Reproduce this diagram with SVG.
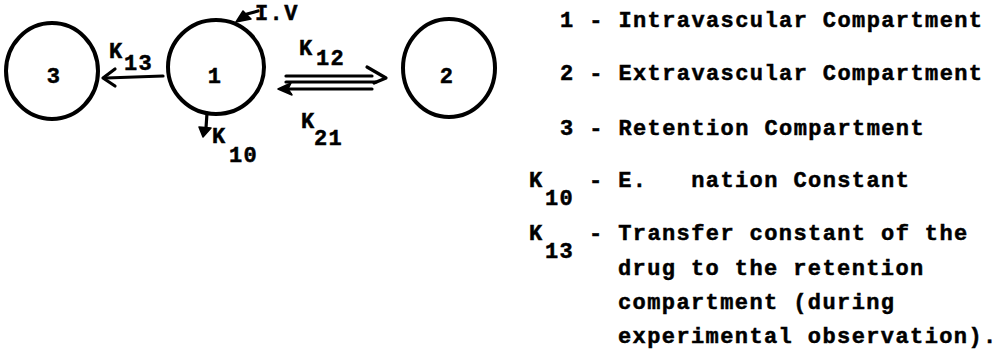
<svg xmlns="http://www.w3.org/2000/svg" width="999" height="353" viewBox="0 0 999 353">
<style>
.t{font-family:"Liberation Mono","DejaVu Sans Mono",monospace;font-weight:bold;font-size:22px;letter-spacing:1.4px;fill:#000;stroke:#000;stroke-width:0.5px;white-space:pre}
.c{fill:none;stroke:#000;stroke-width:4}
.ln{fill:none;stroke:#000;stroke-width:3.2;stroke-linecap:round;stroke-linejoin:round}
.hd{fill:#000;stroke:#000;stroke-width:1.5;stroke-linejoin:round}
</style>
<rect x="0" y="0" width="999" height="353" fill="#fff"/>
<g id="node-3">
<ellipse class="c" cx="52" cy="71" rx="46" ry="48"/>
<text class="t" x="54" y="83" text-anchor="middle">3</text>
</g>
<g id="node-1">
<ellipse class="c" cx="216" cy="67" rx="48" ry="47"/>
<text class="t" x="215" y="83" text-anchor="middle">1</text>
</g>
<g id="node-2">
<ellipse class="c" cx="449" cy="68" rx="46" ry="49"/>
<text class="t" x="447" y="83" text-anchor="middle">2</text>
</g>
<g id="connectors">
<g id="k13">
<path class="ln" d="M163,76 L106,78"/>
<path class="ln" d="M115,69 L103,78 L115,86"/>
<text class="t" x="109" y="58">K</text>
<text class="t" x="124" y="70">13</text>
</g>
<g id="k12">
<path class="ln" d="M286,76 L372,76"/>
<path class="ln" d="M286,82 L376,82"/>
<path class="ln" d="M367,67 L386,78 L374,83"/>
<text class="t" x="299" y="55">K</text>
<text class="t" x="316" y="65">12</text>
</g>
<g id="k21">
<path class="ln" d="M284,89 L372,89"/>
<path class="hd" d="M278,89 L291,83 L288,89 L292,95 Z"/>
<text class="t" x="301" y="128">K</text>
<text class="t" x="314" y="145">21</text>
</g>
<g id="k10">
<path class="ln" d="M207,113 L206,128"/>
<path class="hd" d="M199,127 L211,128 L203,137 Z"/>
<text class="t" x="212" y="143">K</text>
<text class="t" x="229" y="162">10</text>
</g>
<g id="iv">
<path class="ln" d="M258,11 L247,14"/>
<path class="hd" d="M236,22 L243,11 L251,19 Z"/>
<text class="t" x="255" y="20">I.V</text>
</g>
</g>
<g id="legend">
<text class="t" x="560" y="27">1 - Intravascular Compartment</text>
<text class="t" x="560" y="80">2 - Extravascular Compartment</text>
<text class="t" x="560" y="135">3 - Retention Compartment</text>
<text class="t" x="529" y="187">K</text>
<text class="t" x="545" y="205">10</text>
<text class="t" x="589" y="187" xml:space="preserve">- E.   nation Constant</text>
<text class="t" x="529" y="240">K</text>
<text class="t" x="545" y="258">13</text>
<text class="t" x="589" y="240">- Transfer constant of the</text>
<text class="t" x="618" y="275">drug to the retention</text>
<text class="t" x="618" y="309">compartment (during</text>
<text class="t" x="618" y="343">experimental observation).</text>
</g>
</svg>
